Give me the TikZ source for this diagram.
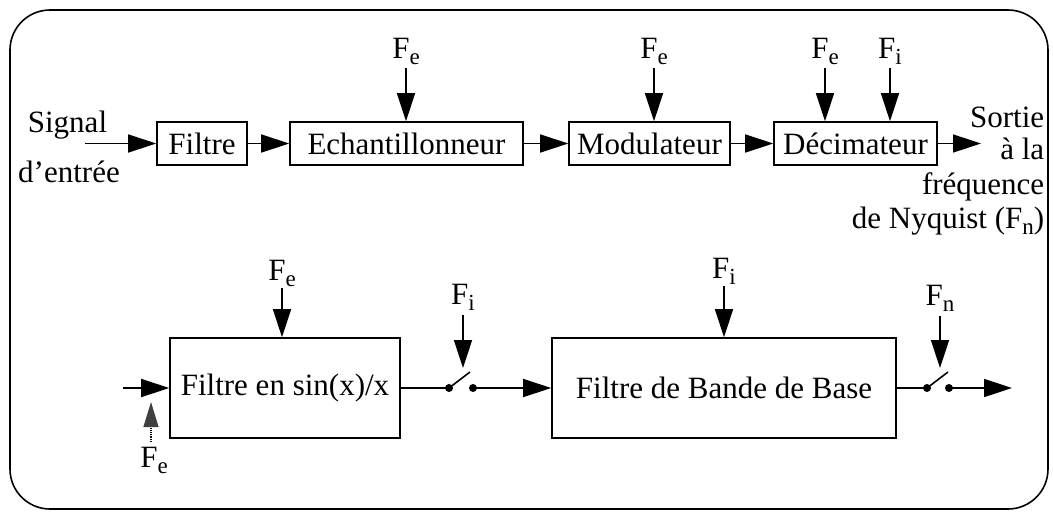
\documentclass[tikz,border=0pt]{standalone}
\usepackage{fontspec}
\setmainfont{Liberation Serif}
\usetikzlibrary{arrows.meta}
\newcommand{\sbs}[1]{\raisebox{-6.5pt}{\fontsize{23}{23}\selectfont #1}}
\begin{document}
\begin{tikzpicture}[x=1pt,y=-1pt,
  font=\fontsize{31}{36}\selectfont, line width=1.6pt,
  box/.style={draw, inner sep=0pt, minimum height=43pt},
  bigbox/.style={draw, inner sep=0pt, minimum height=100pt},
  arr/.style={-{Triangle[length=28pt,width=18pt]}},
  lbl/.style={anchor=base, inner sep=0pt},
  rlbl/.style={anchor=base east, inner sep=0pt},
  dot/.style={circle, fill, inner sep=0pt, minimum size=8pt}]
\useasboundingbox (0,0) rectangle (1053,512);
\draw[rounded corners=40pt] (10,10) rectangle (1048,509);

% ---- top row
\node[box, minimum width=90pt]  (filtre) at (202,143.5) {Filtre};
\node[box, minimum width=233pt] (echant) at (406.5,143.5) {Echantillonneur};
\node[box, minimum width=161pt] (modul)  at (649.5,143.5) {Modulateur};
\node[box, minimum width=163pt] (decim)  at (855.5,143.5) {Décimateur};

\node[lbl] (sig1) at (67.5,132) {Signal};
\node[lbl] (sig2) at (69,182) {d'entrée};
\coordinate (in1) at (85,143.5);
\draw[arr] (in1) -- (filtre.west);
\draw[arr] (filtre.east) -- (echant.west);
\draw[arr] (echant.east) -- (modul.west);
\draw[arr] (modul.east) -- (decim.west);
\coordinate (out1) at (981,143.5);
\draw[arr] (decim.east) -- (out1);

\node[lbl] (lfe1) at (406,58) {F\sbs{e}};
\node[lbl] (lfe2) at (654,58) {F\sbs{e}};
\node[lbl] (lfe3) at (825,58) {F\sbs{e}};
\node[lbl] (lfi1) at (890,58) {F\sbs{i}};
\coordinate (a1) at (406,68);
\coordinate (a2) at (654,68);
\coordinate (a3) at (825,68);
\coordinate (a4) at (890,68);
\draw[arr] (a1) -- (a1 |- echant.north);
\draw[arr] (a2) -- (a2 |- modul.north);
\draw[arr] (a3) -- (a3 |- decim.north);
\draw[arr] (a4) -- (a4 |- decim.north);

\node[rlbl] (o1) at (1045,127) {Sortie};
\node[rlbl] (o2) at (1045,159) {à la};
\node[rlbl] (o3) at (1045,194) {fréquence};
\node[rlbl] (o4) at (1045,228) {de Nyquist (F\sbs{n})};

% ---- bottom row
\node[bigbox, minimum width=230pt] (sinc)  at (285,388) {Filtre en sin(x)/x};
\node[bigbox, minimum width=344pt] (bande) at (724,388) {Filtre de Bande de Base};

\coordinate (in2) at (123,388);
\draw[arr] (in2) -- (sinc.west);

\node[lbl] (lfe4) at (282,280) {F\sbs{e}};
\coordinate (b1) at (282,288);
\draw[arr] (b1) -- (b1 |- sinc.north);

\node[lbl] (lfi2) at (724,278) {F\sbs{i}};
\coordinate (b2) at (724,286);
\draw[arr] (b2) -- (b2 |- bande.north);

% switch 1
\node[dot] (s1a) at (449,388) {};
\node[dot] (s1b) at (473,388) {};
\coordinate (s1c) at (470,372);
\draw (sinc.east) -- (s1a.center);
\draw (s1a.center) -- (s1c);
\draw[arr] (s1b.center) -- (bande.west);
\node[lbl] (lfi3) at (463,304) {F\sbs{i}};
\coordinate (b3) at (463,315);
\coordinate (b3e) at (463,368);
\draw[arr] (b3) -- (b3e);

% switch 2
\node[dot] (s2a) at (927,388) {};
\node[dot] (s2b) at (949,388) {};
\coordinate (s2c) at (948,372);
\draw (bande.east) -- (s2a.center);
\draw (s2a.center) -- (s2c);
\coordinate (out2) at (1012,388);
\draw[arr] (s2b.center) -- (out2);
\node[lbl] (lfn) at (940,305) {F\sbs{n}};
\coordinate (b4) at (940,316);
\coordinate (b4e) at (940,368);
\draw[arr] (b4) -- (b4e);

% dotted Fe input
\coordinate (d1) at (151,442);
\coordinate (d2) at (151,402);
\draw[densely dotted, line width=1.2pt, -{Triangle[length=25pt,width=15pt,fill=black!75,color=black!75]}] (d1) -- (d2);
\node[lbl] (lfe5) at (154,467) {F\sbs{e}};
\end{tikzpicture}
\end{document}
